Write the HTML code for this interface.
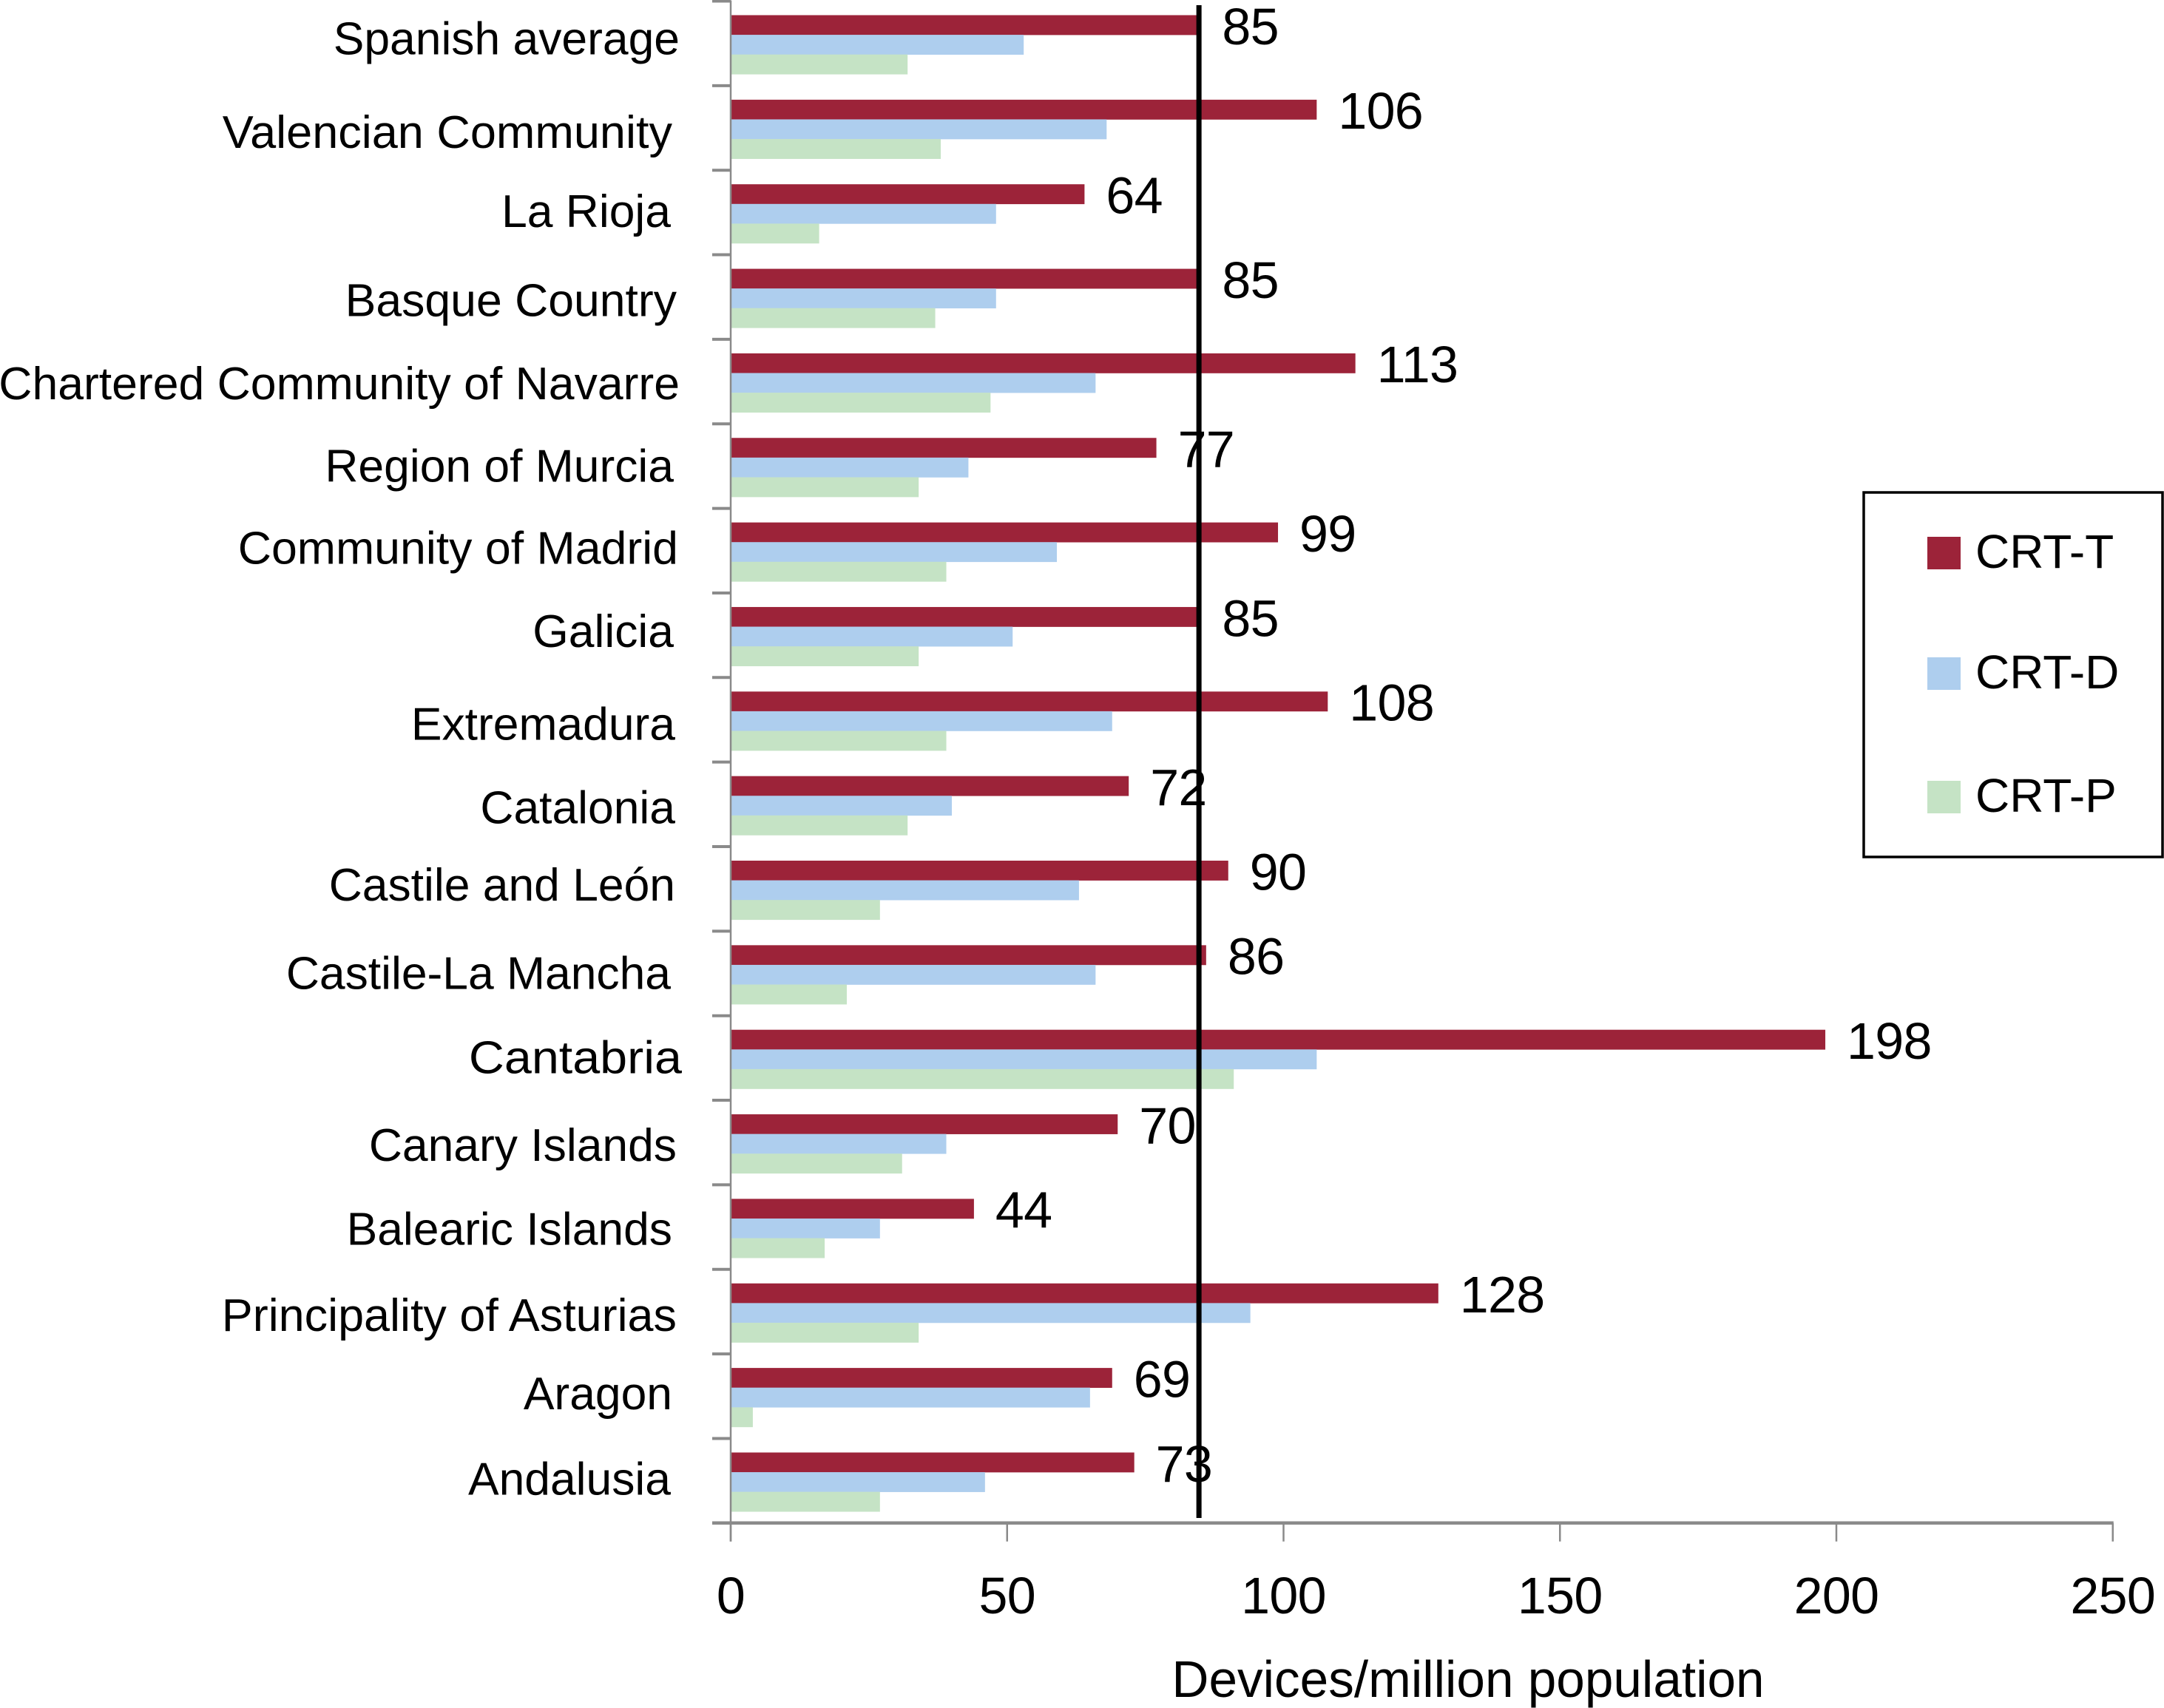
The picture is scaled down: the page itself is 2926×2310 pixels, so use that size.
<!DOCTYPE html>
<html lang="en">
<head>
<meta charset="utf-8">
<title>Devices per million population by region</title>
<style>
html,body{margin:0;padding:0;background:#fff;}
svg{display:block;}
text{font-family:"Liberation Sans",sans-serif;fill:#000;}
</style>
</head>
<body>
<svg id="chart" xmlns="http://www.w3.org/2000/svg" width="2926" height="2310" viewBox="0 0 2926 2310"></svg>
<script>
const categories = ["Spanish average","Valencian Community","La Rioja","Basque Country","Chartered Community of Navarre","Region of Murcia","Community of Madrid","Galicia","Extremadura","Catalonia","Castile and León","Castile-La Mancha","Cantabria","Canary Islands","Balearic Islands","Principality of Asturias","Aragon","Andalusia"];
const crtT = [85,106,64,85,113,77,99,85,108,72,90,86,198,70,44,128,69,73];
const crtD = [53,68,48,48,66,43,59,51,69,40,63,66,106,39,27,94,65,46];
const crtP = [32,38,16,37,47,34,39,34,39,32,27,21,91,31,17,34,4,27];
const xTickLabels = [0,50,100,150,200,250];
const referenceValue = 84.7;
const seriesNames = ["CRT-T","CRT-D","CRT-P"];

const labelNudgeX = [7,-3,-5,3,7,-1,5,-1,1,1,1,-5,10,3,-3,3,-3,-5];
const labelNudgeY = [-5,7,0,6,4,1,-2,-4,7,6,-4,1,1,5,4,6,-2,-1];
const labelStretch = [1,1.01,1,1.002,1.002,1,1.004,1,1,1,1,1,1.065,1,1,1.008,1,1];

const svg = document.getElementById('chart');
const NS = 'http://www.w3.org/2000/svg';
const seriesColors = ['#9C2339','#AECEEE','#C5E3C5'];
const seriesValues = [crtT, crtD, crtP];
const seriesKeys = ['crt-t','crt-d','crt-p'];

const x0 = 988, pxPerUnit = 7.475;
const top0 = 1.5, band = 114.35, axisY = top0 + band * categories.length;
const barTop = 19, barH = 26.6;
function xScale(v){ return x0 + v * pxPerUnit; }
function bandTop(i){ return top0 + band * i; }

function make(tag, attrs, text){
  const el = document.createElementNS(NS, tag);
  for (const k in attrs) el.setAttribute(k, attrs[k]);
  if (text !== undefined) el.textContent = text;
  svg.appendChild(el);
  return el;
}

// bars
categories.forEach(function(cat, i){
  seriesValues.forEach(function(vals, s){
    const r = make('rect', {x:xScale(0), y:bandTop(i)+barTop+s*barH, width:xScale(vals[i])-xScale(0), height:barH+0.3, fill:seriesColors[s]});
    
    
  });
});

// axes
const yAxis = make('line', {x1:x0, y1:top0-1, x2:x0, y2:axisY+25, stroke:'#8a8a8a', 'stroke-width':2.5});


const xAxis = make('line', {x1:x0-25, y1:axisY, x2:xScale(250)+1, y2:axisY, stroke:'#8a8a8a', 'stroke-width':4.5});



for (let i = 0; i < categories.length; i++){
  const t = make('line', {x1:x0-25, y1:bandTop(i), x2:x0, y2:bandTop(i), stroke:'#8a8a8a', 'stroke-width':4});
  
  
}

xTickLabels.forEach(function(v){
  const t = make('line', {x1:xScale(v), y1:axisY, x2:xScale(v), y2:axisY+25, stroke:'#8a8a8a', 'stroke-width':2.5});
  
  
  const l = make('text', {x:xScale(v), y:2182, 'text-anchor':'middle', 'font-size':70, 'letter-spacing':-0.7}, String(v));
  
  
});

// category labels
categories.forEach(function(cat, i){
  const l = make('text', {x:912+labelNudgeX[i], y:bandTop(i)+77+labelNudgeY[i], 'text-anchor':'end', 'font-size':62.4}, cat);
  
  
  if (labelStretch[i] !== 1) {
    l.setAttribute('textLength', l.getComputedTextLength() * labelStretch[i]);
    l.setAttribute('lengthAdjust', 'spacingAndGlyphs');
  }
});

// reference line
const ref = make('line', {x1:xScale(referenceValue), y1:7, x2:xScale(referenceValue), y2:2053, stroke:'#000', 'stroke-width':7});



// value labels
crtT.forEach(function(v, i){
  const l = make('text', {x:xScale(v)+29, y:bandTop(i)+barTop+barH/2+26, 'font-size':70, 'letter-spacing':-0.7}, String(v));
  
  
});

// axis title
const title = make('text', {x:1985, y:2295, 'text-anchor':'middle', 'font-size':69.3}, 'Devices/million population');



// legend
const box = make('rect', {x:2520, y:666, width:404, height:493, fill:'#fff', stroke:'#000', 'stroke-width':3.5});


const legendSwatchY = [726, 889, 1056];
seriesNames.forEach(function(name, s){
  const sw = make('rect', {x:2606, y:legendSwatchY[s], width:45, height:44, fill:seriesColors[s]});
  
  
  const lb = make('text', {x:2671, y:legendSwatchY[s]+42, 'font-size':64}, name);
  
  
});
</script>
</body>
</html>
